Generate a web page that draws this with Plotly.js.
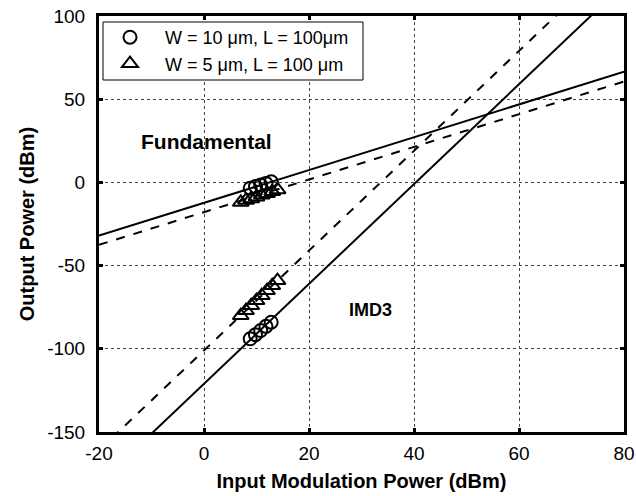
<!DOCTYPE html>
<html><head><meta charset="utf-8">
<script src="https://cdn.plot.ly/plotly-3.0.1.min.js"></script>
<style>body{margin:0;background:#fff}#g{width:636px;height:496px}</style>
</head><body><div id="g"></div>
<script>
// Fitted lines (endpoints)
const lineX = [-20, 80];
const fundSolidY = [-32.0, 66.6];   // W = 10 um
const fundDashY = [-37.5, 60.6];    // W = 5 um
const imdSolidY = [-181, 119];      // W = 10 um
const imdDashY = [-161, 139];       // W = 5 um

// Measured points, W = 10 um (circles)
const circX = [8.8, 9.8, 10.8, 11.8, 12.8];
const circFundY = [-3.5, -2.5, -1.6, -0.6, 0.4];
const circImdY = [-94, -91.5, -89, -86.5, -84];

// Measured points, W = 5 um (triangles)
const triX = [7, 8, 9, 10, 11, 12, 13, 14];
const triFundY = [-12, -10.8, -9.8, -8.7, -7.6, -6.6, -5.5, -4.4];
const triImdY = [-80, -77, -74, -71, -68, -65, -62, -59];

// Tick labels
const xTicks = [-20, 0, 20, 40, 60, 80];
const xTickText = ['-20', '0', '20', '40', '60', '80'];
const yTicks = [-150, -100, -50, 0, 50, 100];
const yTickText = ['-150', '-100', '-50', '0', '50', '100'];

const NB = '\u00a0\u00a0\u00a0';
const legend1 = NB + 'W = 10 \u03bcm, L = 100\u03bcm';
const legend2 = NB + 'W = 5 \u03bcm, L = 100 \u03bcm';

const FONT = 'Arial, "Liberation Sans", sans-serif';
const lineStyle = (dash) => ({color: '#000', width: 2, dash: dash});

const traces = [
  {x: lineX, y: fundSolidY, mode: 'lines', line: lineStyle('solid'), showlegend: false, hoverinfo: 'skip'},
  {x: lineX, y: fundDashY, mode: 'lines', line: lineStyle('dash'), showlegend: false, hoverinfo: 'skip'},
  {x: lineX, y: imdSolidY, mode: 'lines', line: lineStyle('solid'), showlegend: false, hoverinfo: 'skip'},
  {x: lineX, y: imdDashY, mode: 'lines', line: lineStyle('dash'), showlegend: false, hoverinfo: 'skip'},
  {x: circX.concat([null], circX), y: circFundY.concat([null], circImdY), mode: 'markers', name: legend1,
   marker: {symbol: 'circle-open', size: 13, color: '#000', line: {width: 2, color: '#000'}}},
  {x: triX.concat([null], triX), y: triFundY.concat([null], triImdY), mode: 'markers', name: legend2,
   marker: {symbol: 'triangle-up-open', size: 14, color: '#000', line: {width: 2, color: '#000'}}}
];

const axisCommon = {
  showline: true, mirror: 'ticks', linecolor: '#000', linewidth: 3,
  ticks: 'inside', ticklen: 4, tickwidth: 3, tickcolor: '#000',
  showgrid: true, gridcolor: '#444', griddash: 'dot', gridwidth: 1,
  zeroline: false, tickfont: {family: FONT, size: 19, color: '#000'}
};

const W = 636, H = 496, ML = 99, MR = 12, MT = 16, MB = 64;
const pw = W - ML - MR, ph = H - MT - MB;
const px = (p) => (p - ML) / pw;
const py = (p) => 1 - (p - MT) / ph;

const layout = {
  width: W, height: H,
  margin: {l: ML, r: MR, t: MT, b: MB},
  paper_bgcolor: '#fff', plot_bgcolor: '#fff',
  font: {family: FONT, color: '#000'},
  xaxis: Object.assign({}, axisCommon, {
    range: [-20, 80], tickvals: xTicks, ticktext: xTickText, ticklabelstandoff: 2,
    title: {text: '<b>Input Modulation Power (dBm)</b>', font: {family: FONT, size: 20, color: '#000'}, standoff: 12}
  }),
  yaxis: Object.assign({}, axisCommon, {
    range: [-150, 100], tickvals: yTicks, ticktext: yTickText, ticklabelstandoff: 7,
    title: {text: '<b>Output Power (dBm)</b>', font: {family: FONT, size: 20, color: '#000'}, standoff: 8}
  }),
  showlegend: true,
  legend: {x: px(110), y: py(19), xanchor: 'left', yanchor: 'top', bgcolor: 'rgba(0,0,0,0)',
           borderwidth: 0, font: {family: FONT, size: 18, color: '#000'}, itemwidth: 30},
  shapes: [
    {type: 'rect', xref: 'paper', yref: 'paper', x0: px(103), x1: px(363), y0: py(80), y1: py(22),
     fillcolor: '#fff', line: {color: '#000', width: 1}, layer: 'above'}
  ],
  annotations: [
    {x: 0.4, y: 24.6, xref: 'x', yref: 'y', text: '<b>Fundamental</b>', showarrow: false,
     font: {family: FONT, size: 21, color: '#000'}},
    {x: 31.8, y: -76.5, xref: 'x', yref: 'y', text: '<b>IMD3</b>', showarrow: false,
     font: {family: FONT, size: 18, color: '#000'}}
  ]
};

Plotly.newPlot('g', traces, layout, {displayModeBar: false, staticPlot: true});
</script></body></html>
